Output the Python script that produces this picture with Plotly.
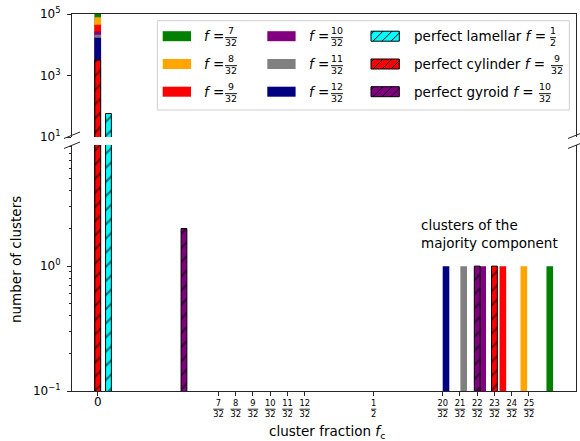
import plotly.graph_objects as go

FONT = "DejaVu Sans"
INK = "#262626"

# ---------------------------------------------------------------- data
# composition series f = n/32: many tiny minority clusters (fraction ~0)
# plus one percolating majority cluster
f_num = [7, 8, 9, 10, 11, 12]
f_den = 32
f_colors = ["#008000", "#ffa500", "#ff0000", "#800080", "#808080", "#000080"]
minority_frac = [0.0, 0.0, 0.0, 0.0, 0.0, 0.0]
minority_count = [1.2e5, 7.8e4, 4.5e4, 2.7e4, 2.1e4, 1.7e4]
majority_frac = [0.819, 0.772, 0.734, 0.6975, 0.663, 0.631]
majority_count = [1, 1, 1, 1, 1, 1]

# ideal morphologies
perfect_names = ["lamellar", "cylinder", "gyroid"]
perfect_f = [(1, 2), (9, 32), (10, 32)]
perfect_colors = ["#00ffff", "#ff0000", "#800080"]
perfect_frac = [[0.0195], [0.0, 0.71875], [0.15625, 0.6875]]
perfect_count = [[58], [3200, 1], [2, 1]]

# x ticks as (numerator, denominator)
xtick_parts = [(0, 1), (7, 32), (8, 32), (9, 32), (10, 32), (11, 32), (12, 32),
               (1, 2), (20, 32), (21, 32), (22, 32), (23, 32), (24, 32), (25, 32)]
ytick_low = [-1, 0]
ytick_high = [1, 3, 5]

# ---------------------------------------------------------------- geometry (px)
W, H = 580, 441
PL, PR, PT, PB = 72, 576, 14, 391          # plot area edges
LOW_TOP, HIGH_BOT = 145, 137               # broken-axis gap


def X(px):
    return (px - PL) / (PR - PL)


def Y(py):
    return (PB - py) / (PB - PT)


def frac_html(n, d):
    return f"{n}<br><span style='text-decoration:overline'>{d}</span>"


fig = go.Figure()

PLAIN_W = 0.012
HATCH_W = 0.0105
panels = [("x", "y"), ("x2", "y2")]

for i in range(len(f_num)):
    for xa, ya in panels:
        fig.add_bar(
            x=[minority_frac[i], majority_frac[i]],
            y=[minority_count[i], majority_count[i]],
            width=PLAIN_W,
            marker=dict(color=f_colors[i], line=dict(width=0)),
            xaxis=xa, yaxis=ya, showlegend=False, hoverinfo="skip",
        )

for j in range(len(perfect_names)):
    c = perfect_colors[j]
    for xa, ya in panels:
        fig.add_bar(
            x=perfect_frac[j], y=perfect_count[j], width=HATCH_W,
            marker=dict(
                color=c, line=dict(color="black", width=1),
                pattern=dict(shape="/", fgcolor="black", bgcolor=c,
                             size=10, solidity=0.22),
            ),
            xaxis=xa, yaxis=ya, showlegend=False, hoverinfo="skip",
        )

# ---------------------------------------------------------------- axes
xtickvals = [n / d for n, d in xtick_parts]
xticktext = ["<span style='font-size:12px'>0</span>" if n == 0 else frac_html(n, d)
             for n, d in xtick_parts]

axis_common = dict(showgrid=False, zeroline=False, showline=True,
                   linecolor=INK, linewidth=1, tickcolor=INK)

fig.update_layout(
    width=W, height=H,
    margin=dict(l=PL, r=W - PR, t=PT, b=H - PB),
    paper_bgcolor="white", plot_bgcolor="white",
    barmode="overlay",
    font=dict(family=FONT, color="black", size=12),
    xaxis=dict(**axis_common, domain=[0, 1], anchor="y",
               range=[-0.0466, 0.8665], ticks="outside", ticklen=4,
               tickvals=xtickvals, ticktext=xticktext,
               tickfont=dict(size=8.3)),
    xaxis2=dict(**axis_common, matches="x", anchor="y2", side="top",
                ticks="", showticklabels=False),
    yaxis=dict(**axis_common, type="log", anchor="x", mirror=True,
               domain=[0, Y(LOW_TOP)], range=[-1, 0.97],
               ticks="outside", ticklen=4, ticklabelstandoff=4,
               tickvals=[10 ** e for e in ytick_low],
               ticktext=[f"10<sup>{'−1' if e < 0 else e}</sup>" for e in ytick_low],
               minor=dict(ticks="outside", ticklen=2, tickcolor=INK,
                          tickmode="array",
                          tickvals=[k / 10 for k in range(2, 10)] + list(range(2, 10)))),
    yaxis2=dict(**axis_common, type="log", anchor="x2", mirror=True,
                domain=[Y(HIGH_BOT), 1], range=[1, 5],
                ticks="outside", ticklen=4, ticklabelstandoff=4,
                tickvals=[10 ** e for e in ytick_high],
                ticktext=[f"10<sup>{e}</sup>" for e in ytick_high]),
)

shapes = []
annotations = []

# broken-axis marks on both spines
for sx in (PL, PR):
    for yb in (HIGH_BOT + 1.5, LOW_TOP + 3.5):
        shapes.append(dict(type="line", xref="paper", yref="paper",
                           x0=X(sx - 8), y0=Y(yb), x1=X(sx + 8), y1=Y(yb - 6.5),
                           line=dict(color=INK, width=1)))

# ---------------------------------------------------------------- legend box
shapes.append(dict(type="rect", xref="paper", yref="paper",
                   x0=X(157.3), x1=X(569.3), y0=Y(110), y1=Y(20.7),
                   fillcolor="white", line=dict(color="#d0d0d0", width=1)))

row_y = [36.2, 64.0, 91.7]
col_sw = [162.7, 267.3, 371.0]
col_tx = [202.3, 306.7, 411.7]
SW_W, SW_H = 28.3, 10
LEG_FS, LEG_FRAC_FS = 13.5, 9.4


def swatch(x0, yc, color, hatched):
    y0, y1 = yc + SW_H / 2, yc - SW_H / 2
    shapes.append(dict(type="rect", xref="paper", yref="paper",
                       x0=X(x0), x1=X(x0 + SW_W), y0=Y(y0), y1=Y(y1),
                       fillcolor=color,
                       line=dict(color="black" if hatched else color,
                                 width=1 if hatched else 0)))
    if hatched:
        xs = x0 - SW_H + 3
        while xs < x0 + SW_W:
            a = max(x0, xs)
            b = min(x0 + SW_W, xs + SW_H)
            if b > a:
                shapes.append(dict(type="line", xref="paper", yref="paper",
                                   x0=X(a), y0=Y(y0 - (a - xs)),
                                   x1=X(b), y1=Y(y0 - (b - xs)),
                                   line=dict(color="black", width=1)))
            xs += 9


def label(x, yc, text, frac_center, n, d):
    annotations.append(dict(xref="paper", yref="paper", x=X(x), y=Y(yc),
                            xanchor="left", yanchor="middle", showarrow=False,
                            text=text, font=dict(size=LEG_FS)))
    annotations.append(dict(xref="paper", yref="paper", x=X(frac_center), y=Y(yc + 0.5),
                            xanchor="center", yanchor="middle", showarrow=False,
                            align="center", text=frac_html(n, d),
                            font=dict(size=LEG_FRAC_FS)))


frac_col_center = [231, 337]
for i, n in enumerate(f_num):
    col, row = divmod(i, 3)
    swatch(col_sw[col], row_y[row], f_colors[i], False)
    label(col_tx[col], row_y[row], "<i>f</i> =", frac_col_center[col], n, f_den)

perfect_frac_center = [553, 557, 545]
for j, name in enumerate(perfect_names):
    swatch(col_sw[2], row_y[j], perfect_colors[j], True)
    n, d = perfect_f[j]
    label(col_tx[2], row_y[j], f"perfect {name} <i>f</i> =", perfect_frac_center[j], n, d)

# ---------------------------------------------------------------- text
annotations.append(dict(xref="paper", yref="paper", x=X(419), y=Y(233.5),
                        xanchor="left", yanchor="middle", align="left",
                        showarrow=False, font=dict(size=13.5),
                        text="clusters of the<br>majority component"))
annotations.append(dict(xref="paper", yref="paper", x=X(327), y=Y(432),
                        xanchor="center", yanchor="middle", showarrow=False,
                        font=dict(size=13.5),
                        text="cluster fraction <i>f</i><sub>c</sub>"))
annotations.append(dict(xref="paper", yref="paper", x=X(16), y=Y(260),
                        xanchor="center", yanchor="middle", showarrow=False,
                        textangle=-90, font=dict(size=13.5),
                        text="number of clusters"))

fig.update_layout(shapes=shapes, annotations=annotations)
fig.write_html("out.html")
